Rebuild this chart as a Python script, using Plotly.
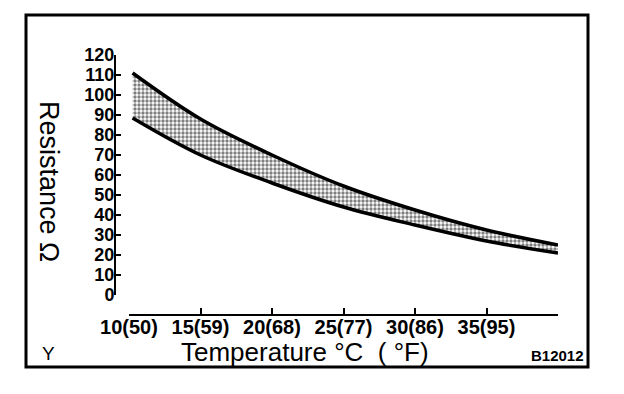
import plotly.graph_objects as go

# ---- data ----
temp_c = [10.25, 15, 20, 25, 30, 35, 40]
r_upper = [111, 88, 70, 54.5, 42.5, 32.5, 25]
r_lower = [88.5, 70, 56, 44, 35, 27, 21]

x_tickvals = [10, 15, 20, 25, 30, 35, 40]
x_ticktext = ["10(50)", "15(59)", "20(68)", "25(77)", "30(86)", "35(95)", ""]
y_tickvals = list(range(0, 121, 10))

# the page body has an 8px default margin, so the figure is drawn 8px smaller
OFF = 8
W, H = 624 - OFF, 394 - OFF
L, R, T, B = 107, 66, 47, 79
PW, PH = W - L - R, H - T - B

def px(x):   # screen pixel x -> paper fraction
    return (x - OFF - L) / PW

def py(y):   # screen pixel y -> paper fraction
    return (H - B - (y - OFF)) / PH

FONT = "Liberation Sans, Arial, Helvetica, sans-serif"

fig = go.Figure()
fig.add_trace(go.Scatter(
    x=temp_c, y=r_lower, mode="lines",
    line=dict(color="black", width=3.5, shape="spline"),
    hoverinfo="skip", showlegend=False))
fig.add_trace(go.Scatter(
    x=temp_c, y=r_upper, mode="lines",
    line=dict(color="black", width=3.5, shape="spline"),
    fill="tonexty", fillcolor="rgba(0,0,0,0)",
    fillpattern=dict(shape=".", fgcolor="black", bgcolor="white", size=4, solidity=0.55),
    hoverinfo="skip", showlegend=False))

fig.update_layout(
    width=W, height=H,
    margin=dict(l=L, r=R, t=T, b=B, pad=0),
    paper_bgcolor="white", plot_bgcolor="white",
    font=dict(family=FONT, color="black"),
    xaxis=dict(
        domain=[px(129), 1], range=[10, 40], anchor="free", position=0,
        showgrid=False, zeroline=False,
        showline=True, linecolor="black", linewidth=2,
        ticks="inside", ticklen=6, tickwidth=2, tickcolor="black",
        tickvals=x_tickvals, ticktext=x_ticktext,
        tickfont=dict(size=20, family=FONT, color="black", weight="bold"),
        ticklabelstandoff=-6,
    ),
    yaxis=dict(
        domain=[py(295), 1], range=[0, 120], anchor="free", position=0,
        showgrid=False, zeroline=False,
        showline=True, linecolor="black", linewidth=2,
        ticks="inside", ticklen=5, tickwidth=2, tickcolor="black",
        tickvals=y_tickvals,
        tickfont=dict(size=18, family=FONT, color="black", weight="bold"),
        ticklabelstandoff=-4,
    ),
)

# border box
fig.add_shape(type="rect", xref="paper", yref="paper",
              x0=px(26), x1=px(588), y0=py(367), y1=py(15),
              line=dict(color="black", width=3), layer="above")

anns = [
    dict(text="Temperature \u00b0C\u00a0\u00a0(\u00a0\u00b0F)", x=px(305), y=py(352), size=26, angle=0),
    dict(text="Resistance \u03a9", x=px(49), y=py(181), size=27, angle=90),
    dict(text="Y", x=px(48), y=py(353), size=19, angle=0),
    dict(text="<b>B12012</b>", x=px(557), y=py(356), size=15, angle=0),
]
for a in anns:
    fig.add_annotation(text=a["text"], xref="paper", yref="paper",
                       x=a["x"], y=a["y"], xanchor="center", yanchor="middle",
                       showarrow=False, textangle=a["angle"],
                       font=dict(size=a["size"], family=FONT, color="black"))

fig.write_html("out.html")
